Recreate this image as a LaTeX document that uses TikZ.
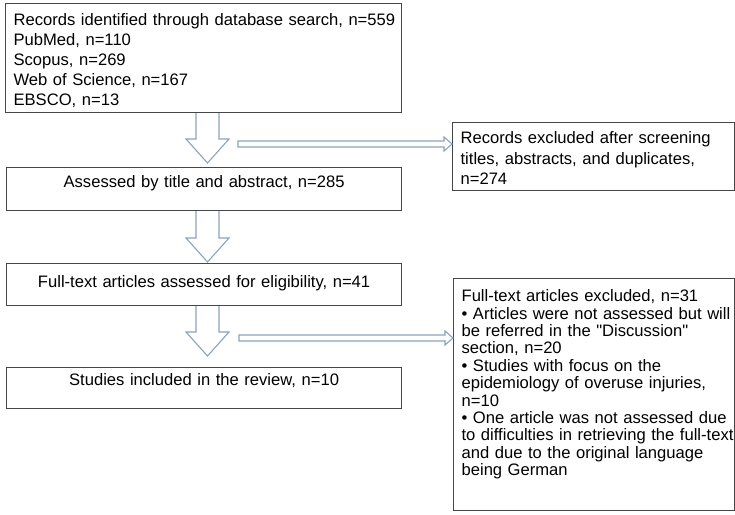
\documentclass[tikz,border=0pt]{standalone}
\usepackage{fontspec}
\setmainfont{Liberation Sans}[Ligatures=TeXOff]
\usetikzlibrary{calc}
\definecolor{Bcolor}{RGB}{70, 70, 70}
\definecolor{Acolor}{RGB}{140, 162, 190}
\def\shaftwidth{11.5}
\def\headwidth{21.5}
\def\headlength{24}
\def\sidethick{3}
\def\sidehead{7}
\def\sidelength{8}

% hollow arrow going down, from the bottom of #1 to just above #2
\newcommand\downblock[3]{%
  \coordinate (top) at (#1.south -| ax);
  \coordinate (tip) at ($(#2.north -| ax)+(0,-#3)$);
  \draw[blockarrow] ($(top)+(-\shaftwidth,0)$) -- ($(tip)+(-\shaftwidth,-\headlength)$)
    -- ($(tip)+(-\headwidth,-\headlength)$) -- (tip)
    -- ($(tip)+(\headwidth,-\headlength)$) -- ($(tip)+(\shaftwidth,-\headlength)$)
    -- ($(top)+(\shaftwidth,0)$);
}
% thin hollow arrow going right, from #1 to the left side of #2
\newcommand\rightblock[2]{%
  \coordinate (tip) at (#1 -| #2.west);
  \draw[blockarrow] ($(#1)+(0,-\sidethick)$) -- ($(tip)+(-\sidelength,-\sidethick)$)
    -- ($(tip)+(-\sidelength,-\sidehead)$) -- (tip)
    -- ($(tip)+(-\sidelength,\sidehead)$) -- ($(tip)+(-\sidelength,\sidethick)$)
    -- ($(#1)+(0,\sidethick)$) -- cycle;
}
% lines that are never broken
\newcommand\boxlines[1]{\begin{tabular}[t]{@{}l@{}}#1\end{tabular}}

\begin{document}
\begin{tikzpicture}[x=1pt, y=-1pt,
    box/.style={draw=Bcolor, line width=1.2pt, shape=rectangle, anchor=north west,
      inner ysep=0pt, font=\fontsize{16.6}{20}\selectfont},
    blockarrow/.style={draw=Acolor, fill=white, line width=1.1pt, line join=miter}]
    \useasboundingbox (0, 0) rectangle (735, 514);
    \coordinate (ax) at (207.5, 0);
    % main column
    \node[box, inner xsep=8pt, text width=380pt, text height=22pt, text depth=87pt] (b1) at (5, 3)
      {\boxlines{Records identified through database search, n=559\\
       PubMed, n=110\\
       Scopus, n=269\\
       Web of Science, n=167\\
       EBSCO, n=13}};
    \node[box, inner xsep=8pt, text width=379pt, text height=20pt, text depth=23pt] (b2) at (6, 167)
      {\centering Assessed by title and abstract, n=285\par};
    \node[box, inner xsep=8pt, text width=379pt, text height=24pt, text depth=18pt] (b3) at (6, 263)
      {\centering Full-text articles assessed for eligibility, n=41\par};
    \node[box, inner xsep=8pt, text width=379pt, text height=18pt, text depth=23pt] (b4) at (6, 367)
      {\centering Studies included in the review, n=10\par};
    % excluded
    \node[box, inner xsep=8pt, text width=266pt, text height=21pt, text depth=47pt,
      font=\fontsize{16.6}{20.5}\selectfont] (x1) at (452, 122)
      {\boxlines{Records excluded after screening\\
       titles, abstracts, and duplicates,\\
       n=274}};
    \node[box, inner xsep=8pt, text width=265pt, text height=23pt, text depth=209pt,
      font=\fontsize{16.6}{17.4}\selectfont] (x2) at (453, 278)
      {\boxlines{Full-text articles excluded, n=31\\
       • Articles were not assessed but will\\
       be referred in the "Discussion"\\
       section, n=20\\
       • Studies with focus on the\\
       epidemiology of overuse injuries,\\
       n=10\\
       • One article was not assessed due\\
       to difficulties in retrieving the full-text\\
       and due to the original language\\
       being German}};
    % arrows
    \downblock{b1}{b2}{4}
    \downblock{b2}{b3}{1}
    \downblock{b3}{b4}{11}
    \coordinate (h1) at (238, 144);
    \coordinate (h2) at (239, 338);
    \rightblock{h1}{x1}
    \rightblock{h2}{x2}
\end{tikzpicture}
\end{document}
